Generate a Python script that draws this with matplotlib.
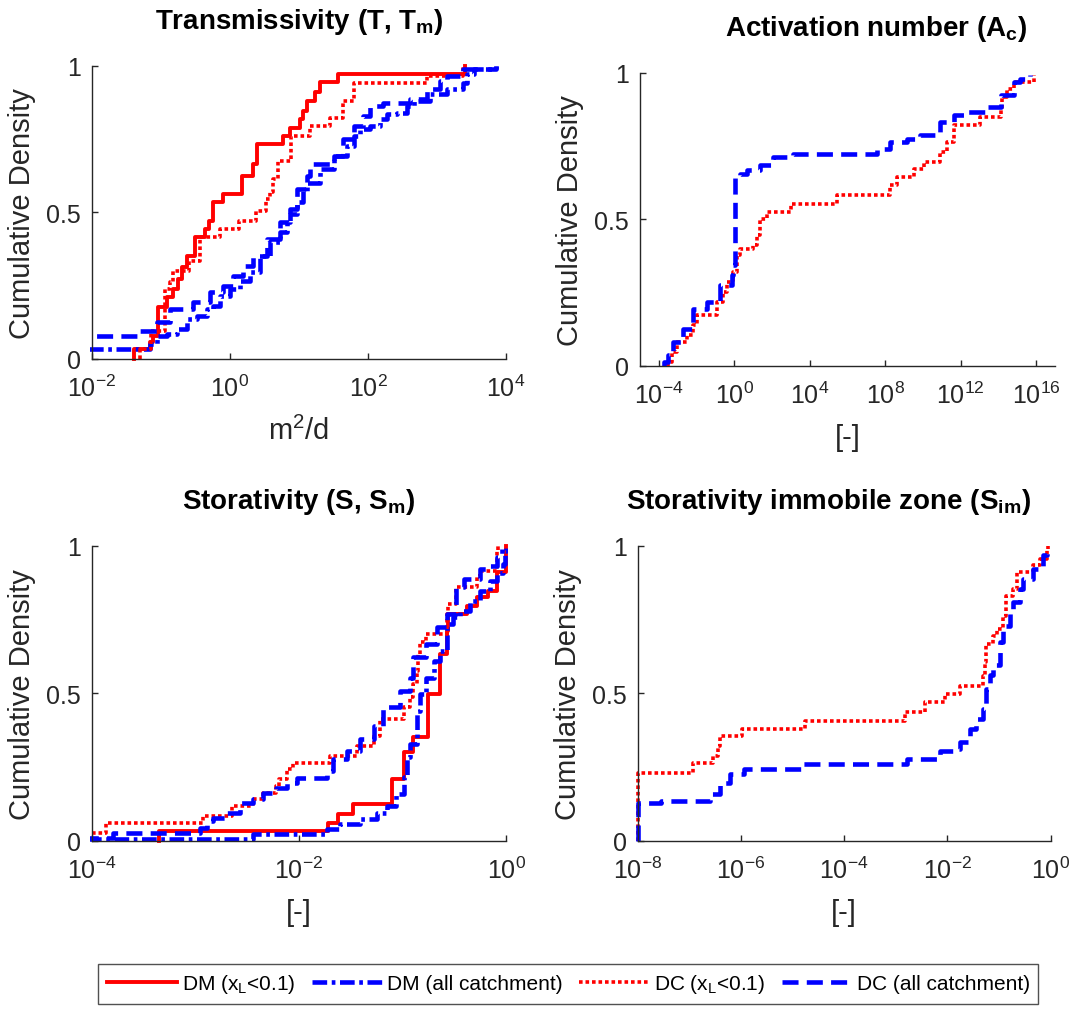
import numpy as np
import matplotlib

matplotlib.use("Agg")

import matplotlib.pyplot as plt
from matplotlib.patches import Rectangle
from matplotlib.lines import Line2D
from matplotlib.ticker import FuncFormatter, NullLocator

plt.rcParams["font.family"] = ["Liberation Sans", "DejaVu Sans"]
plt.rcParams["mathtext.fontset"] = "custom"
plt.rcParams["mathtext.rm"] = "Liberation Sans"
plt.rcParams["mathtext.it"] = "Liberation Sans:italic"
plt.rcParams["mathtext.bf"] = "Liberation Sans:bold"

# Transmissivity (m2/d)
trans_dm_x = [-1.39, -1.16, -1.11, -1.04, -0.92, -0.82, -0.75, -0.70, -0.63, -0.51, -0.36, -0.31, -0.24,
              -0.10, 0.17, 0.34, 0.39, 0.77, 0.87, 1.01, 1.06, 1.11, 1.23, 1.30, 1.57, 3.41]
trans_dm_F = [0.034, 0.057, 0.080, 0.176, 0.211, 0.239, 0.273, 0.313, 0.353, 0.415, 0.444, 0.472, 0.535,
              0.563, 0.626, 0.666, 0.734, 0.762, 0.790, 0.820, 0.847, 0.880, 0.910, 0.944, 0.973, 1.0]
trans_dm_all_x = [-2.3, -1.16, -1.06, -0.92, -0.77, -0.63, -0.48, -0.34, -0.24, -0.15, 0.0, 0.15, 0.29,
                  0.44, 0.58, 0.73, 0.82, 0.87, 0.97, 1.06, 1.11, 1.30, 1.50, 1.69, 1.79, 1.88, 2.03,
                  2.17, 2.27, 2.42, 2.56, 2.66, 2.90, 3.14, 3.38, 3.43, 3.53, 3.86]
trans_dm_all_F = [0.034, 0.051, 0.080, 0.085, 0.102, 0.136, 0.148, 0.170, 0.182, 0.216, 0.239, 0.267, 0.296,
                  0.353, 0.398, 0.432, 0.466, 0.495, 0.535, 0.575, 0.602, 0.648, 0.693, 0.727, 0.761, 0.784,
                  0.795, 0.818, 0.835, 0.841, 0.864, 0.881, 0.903, 0.920, 0.943, 0.972, 0.989, 1.0]
trans_dc_x = [-1.30, -1.14, -0.94, -0.87, -0.82, -0.60, -0.44, -0.15, 0.13, 0.37, 0.52, 0.58, 0.63, 0.70,
              0.89, 1.16, 1.45, 1.64, 1.79, 2.85, 3.38]
trans_dc_F = [0.034, 0.097, 0.239, 0.262, 0.300, 0.336, 0.415, 0.444, 0.472, 0.506, 0.546, 0.569, 0.614,
              0.677, 0.761, 0.795, 0.824, 0.881, 0.943, 0.966, 1.0]
trans_dc_all_x = [-2.3, -1.30, -1.06, -0.87, -0.53, -0.29, -0.10, 0.05, 0.19, 0.34, 0.53, 0.73, 0.87, 0.97,
                  1.11, 1.16, 1.50, 1.64, 1.79, 1.93, 2.03, 2.22, 2.61, 2.85, 3.04, 3.14, 3.38, 3.86]
trans_dc_all_F = [0.080, 0.097, 0.125, 0.171, 0.193, 0.228, 0.250, 0.284, 0.319, 0.353, 0.410, 0.467, 0.512,
                  0.580, 0.626, 0.665, 0.693, 0.750, 0.795, 0.830, 0.864, 0.875, 0.886, 0.920, 0.949, 0.966,
                  0.989, 1.0]

# Activation number
act_dc_x = [-3.50, -3.33, -3.06, -2.53, -2.18, -2.00, -0.94, -0.58, -0.41, -0.05, 0.12, 0.30, 1.01, 1.19,
            1.36, 1.72, 3.00, 5.43, 8.27, 8.62, 9.50, 10.04, 10.92, 11.27, 11.63, 13.04, 14.11, 14.20, 14.46,
            14.81, 15.88]
act_dc_F = [0.012, 0.048, 0.082, 0.105, 0.139, 0.173, 0.218, 0.253, 0.287, 0.321, 0.378, 0.400, 0.412, 0.446,
            0.503, 0.526, 0.554, 0.582, 0.617, 0.645, 0.673, 0.696, 0.730, 0.765, 0.821, 0.850, 0.878, 0.918,
            0.947, 0.969, 0.992]
act_dc_all_x = [-3.73, -3.50, -3.24, -2.71, -2.18, -1.47, -0.76, -0.14, -0.05, 0.035, 0.30, 0.65, 1.36, 2.07,
                3.13, 7.56, 8.27, 9.15, 9.86, 10.92, 11.63, 12.34, 13.40, 14.11, 14.81, 15.17, 15.70]
act_dc_all_F = [0.012, 0.036, 0.082, 0.127, 0.196, 0.218, 0.275, 0.309, 0.344, 0.651, 0.656, 0.668, 0.685,
                0.713, 0.725, 0.742, 0.764, 0.776, 0.787, 0.833, 0.856, 0.867, 0.884, 0.924, 0.969, 0.981, 0.992]

# Storativity
stor_dm_x = [-3.35, -1.72, -1.62, -1.48, -1.10, -0.99, -0.90, -0.75, -0.64, -0.57, -0.56, -0.38, -0.28,
             -0.17, -0.09, -0.003]
stor_dm_F = [0.034, 0.062, 0.091, 0.125, 0.210, 0.300, 0.351, 0.498, 0.634, 0.713, 0.769, 0.798, 0.826,
             0.849, 0.911, 1.0]
stor_dm_all_x = [-4.3, -2.44, -1.73, -1.60, -1.41, -1.25, -1.15, -1.06, -0.99, -0.96, -0.93, -0.86, -0.83,
                 -0.77, -0.70, -0.64, -0.57, -0.51, -0.44, -0.35, -0.25, -0.155, -0.09, -0.026, -0.01, -0.003]
stor_dm_all_F = [0.008, 0.023, 0.040, 0.057, 0.074, 0.096, 0.119, 0.159, 0.216, 0.284, 0.329, 0.442, 0.499,
                 0.554, 0.611, 0.645, 0.736, 0.758, 0.781, 0.815, 0.849, 0.883, 0.910, 0.939, 0.984, 1.0]
stor_dc_x = [-4.3, -3.86, -2.93, -2.65, -2.44, -2.35, -2.22, -2.19, -2.12, -2.06, -1.70, -1.44, -1.28, -1.22,
             -0.99, -0.93, -0.90, -0.86, -0.85, -0.83, -0.77, -0.57, -0.56, -0.48, -0.28, -0.25, -0.09, -0.074]
stor_dc_F = [0.028, 0.062, 0.085, 0.119, 0.142, 0.164, 0.187, 0.210, 0.243, 0.266, 0.289, 0.323, 0.357, 0.414,
             0.453, 0.487, 0.532, 0.577, 0.634, 0.673, 0.702, 0.769, 0.803, 0.860, 0.899, 0.916, 0.984, 1.0]
stor_dc_all_x = [-4.3, -3.80, -2.96, -2.89, -2.83, -2.70, -2.57, -2.44, -2.35, -2.22, -2.12, -2.02, -1.73,
                 -1.67, -1.54, -1.41, -1.28, -1.19, -1.02, -0.93, -0.90, -0.77, -0.67, -0.57, -0.48, -0.41,
                 -0.25, -0.155, -0.09, -0.04]
stor_dc_all_F = [0.011, 0.026, 0.045, 0.068, 0.079, 0.096, 0.130, 0.142, 0.164, 0.181, 0.198, 0.215, 0.238,
                 0.277, 0.306, 0.345, 0.391, 0.453, 0.510, 0.554, 0.622, 0.668, 0.724, 0.769, 0.860, 0.888,
                 0.922, 0.933, 0.962, 0.990]

# Storativity immobile zone
imm_dc_x = [-8.0, -6.92, -6.54, -6.44, -6.41, -5.99, -4.76, -2.83, -2.44, -2.05, -1.76, -1.31, -1.28, -1.25,
            -1.12, -1.05, -0.92, -0.86, -0.73, -0.66, -0.34, -0.21, -0.08, -0.05]
imm_dc_F = [0.232, 0.266, 0.289, 0.323, 0.357, 0.379, 0.408, 0.436, 0.470, 0.498, 0.527, 0.560, 0.606, 0.668,
            0.696, 0.719, 0.764, 0.832, 0.855, 0.912, 0.934, 0.957, 0.991, 1.0]
imm_dc_all_x = [-8.0, -7.54, -6.60, -6.41, -6.21, -5.95, -4.79, -2.79, -2.15, -1.89, -1.76, -1.57, -1.44,
                -1.31, -1.25, -1.18, -1.12, -0.99, -0.92, -0.79, -0.73, -0.60, -0.54, -0.34, -0.15, -0.08]
imm_dc_all_F = [0.130, 0.136, 0.159, 0.198, 0.226, 0.243, 0.260, 0.277, 0.306, 0.311, 0.334, 0.379, 0.413,
                0.447, 0.515, 0.561, 0.595, 0.674, 0.730, 0.787, 0.810, 0.855, 0.889, 0.923, 0.968, 0.985]

labels = ["DM (x$_\\mathrm{L}$<0.1)", "DM (all catchment)", "DC (x$_\\mathrm{L}$<0.1)", "DC (all catchment)"]
styles = [
    dict(color="#FF0000", lw=2.8, ls="-"),
    dict(color="#0000FF", lw=3.3, ls=(0, (3.2, 1.0, 0.8, 1.0))),
    dict(color="#FF0000", lw=2.6, ls=(0, (1.0, 0.8))),
    dict(color="#0000FF", lw=3.3, ls=(0, (3.5, 1.8))),
]
dark = "#262626"


def draw_cdf(ax, logx, F, style):
    x = 10.0 ** np.asarray(logx)
    xs = np.r_[x[0], x]
    ys = np.r_[0.0, F]
    line, = ax.plot(xs, ys, drawstyle="steps-post", **style)
    line.set_clip_path(Rectangle((-0.004, -0.02), 1.008, 1.04, transform=ax.transAxes))


def style_axes(ax, xlim, xticks, xlabel, title, title_x=0.5):
    ax.set_xscale("log")
    ax.set_xlim(xlim)
    ax.set_ylim(0, 1)
    ax.set_xticks(xticks)
    ax.xaxis.set_minor_locator(NullLocator())
    ax.xaxis.set_major_formatter(FuncFormatter(lambda v, p: r"$\mathdefault{10^{%d}}$" % round(np.log10(v))))
    ax.set_yticks([0, 0.5, 1])
    ax.set_yticklabels(["0", "0.5", "1"])
    for s in ["top", "right"]:
        ax.spines[s].set_visible(False)
    for s in ["left", "bottom"]:
        ax.spines[s].set_color(dark)
        ax.spines[s].set_linewidth(1.0)
    ax.tick_params(direction="in", length=4, width=1.0, colors=dark, labelsize=18)
    ax.tick_params(axis="y", pad=8)
    ax.tick_params(axis="x", pad=11)
    ax.set_xlabel(xlabel, fontsize=21, color=dark, labelpad=11)
    ax.set_ylabel("Cumulative Density", fontsize=21, color=dark, labelpad=7)
    ax.set_title(title, fontsize=20, fontweight="bold", pad=27, x=title_x)


fig = plt.figure(figsize=(10.76, 10.12), dpi=100)
ax1 = fig.add_axes([0.0855, 0.6443, 0.3848, 0.2895])
ax2 = fig.add_axes([0.5948, 0.6374, 0.3857, 0.2895])
ax3 = fig.add_axes([0.0855, 0.1680, 0.3848, 0.2915])
ax4 = fig.add_axes([0.5927, 0.1680, 0.3838, 0.2915])

draw_cdf(ax1, trans_dm_x, trans_dm_F, styles[0])
draw_cdf(ax1, trans_dm_all_x, trans_dm_all_F, styles[1])
draw_cdf(ax1, trans_dc_x, trans_dc_F, styles[2])
draw_cdf(ax1, trans_dc_all_x, trans_dc_all_F, styles[3])
style_axes(ax1, (1e-2, 1e4), [1e-2, 1e0, 1e2, 1e4], "m$^2$/d", r"Transmissivity (T, T$_\mathbf{m}$)")

draw_cdf(ax2, act_dc_x, act_dc_F, styles[2])
draw_cdf(ax2, act_dc_all_x, act_dc_all_F, styles[3])
style_axes(ax2, (1e-5, 1e17), [1e-4, 1e0, 1e4, 1e8, 1e12, 1e16], "[-]",
           r"Activation number (A$_\mathbf{c}$)", title_x=0.569)

draw_cdf(ax3, stor_dm_x, stor_dm_F, styles[0])
draw_cdf(ax3, stor_dm_all_x, stor_dm_all_F, styles[1])
draw_cdf(ax3, stor_dc_x, stor_dc_F, styles[2])
draw_cdf(ax3, stor_dc_all_x, stor_dc_all_F, styles[3])
style_axes(ax3, (1e-4, 1e0), [1e-4, 1e-2, 1e0], "[-]", r"Storativity (S, S$_\mathbf{m}$)")

draw_cdf(ax4, imm_dc_x, imm_dc_F, styles[2])
draw_cdf(ax4, imm_dc_all_x, imm_dc_all_F, styles[3])
style_axes(ax4, (1e-8, 1e0), [1e-8, 1e-6, 1e-4, 1e-2, 1e0], "[-]",
           r"Storativity immobile zone (S$_\mathbf{im}$)", title_x=0.462)

handles = [Line2D([], [], **st) for st in styles]
leg = fig.legend(handles, labels, loc="center", bbox_to_anchor=(0.528, 0.027), ncol=4, fontsize=15,
                 frameon=True, fancybox=False, edgecolor=dark, handlelength=3.4, handletextpad=0.2,
                 columnspacing=0.8, borderpad=0.4)
leg.get_frame().set_linewidth(1.0)

fig.savefig("out.png", dpi=100)
